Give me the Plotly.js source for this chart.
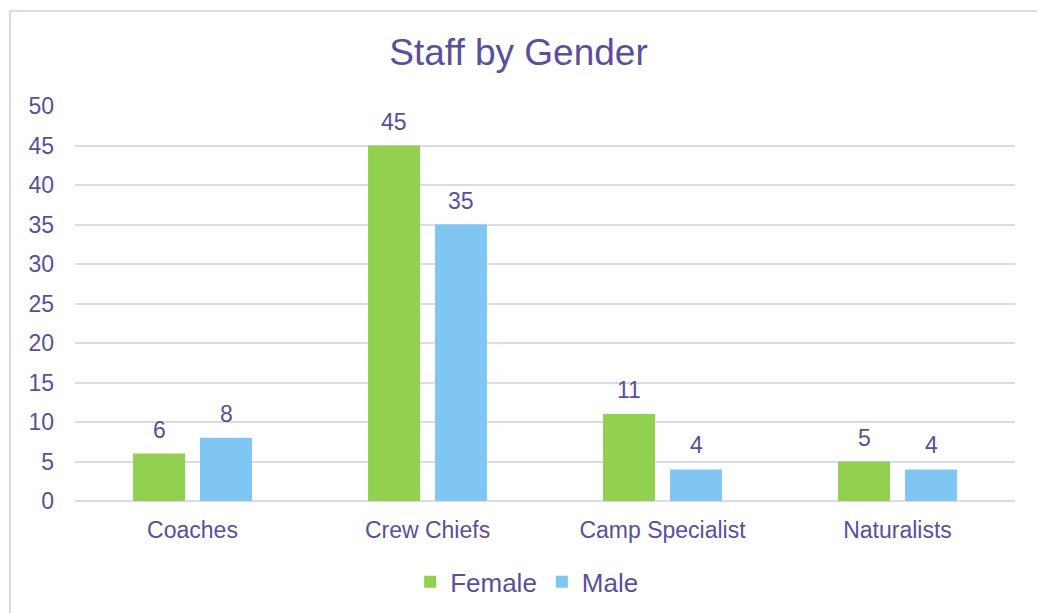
<!DOCTYPE html>
<html>
<head>
<meta charset="utf-8">
<script src="https://cdn.plot.ly/plotly-3.0.1.min.js"></script>
<style>
  html, body { margin: 0; padding: 0; background: #ffffff; }
  #wrap { position: relative; width: 1037px; height: 613px; overflow: hidden; }
  #chart { position: absolute; left: 0; top: 0; width: 1037px; height: 613px; }
  #frame { position: absolute; left: 9px; top: 10px; width: 1100px; height: 700px;
           border-left: 2px solid #DCD9EE; border-top: 2px solid #DCD9EE; pointer-events: none; }
</style>
</head>
<body>
<div id="wrap">
  <div id="chart"></div>
  <div id="frame"></div>
</div>
<script>
const categories = ["Coaches", "Crew Chiefs", "Camp Specialist", "Naturalists"];
const femaleValues = [6, 45, 11, 5];
const maleValues = [8, 35, 4, 4];
const yTicks = [0, 5, 10, 15, 20, 25, 30, 35, 40, 45, 50];

const textColor = "#5A4E9E";
const fontFamily = "Liberation Sans, Arial, sans-serif";
const labelSize = 23;

const traces = [
  { type: "bar", name: "Female", x: categories, y: femaleValues, marker: { color: "#92D14F" } },
  { type: "bar", name: "Male", x: categories, y: maleValues, marker: { color: "#7FC6F3" } }
];

// value labels above each bar
const annotations = [];
[[femaleValues, -33.5], [maleValues, 33.5]].forEach(([vals, dx]) => {
  vals.forEach((v, i) => {
    annotations.push({
      x: categories[i], y: v, xref: "x", yref: "y", text: String(v),
      showarrow: false, xshift: dx, yanchor: "bottom", yshift: 9,
      font: { size: labelSize, color: textColor, family: fontFamily }
    });
  });
});

const layout = {
  width: 1037, height: 613,
  paper_bgcolor: "rgba(0,0,0,0)", plot_bgcolor: "rgba(0,0,0,0)",
  margin: { l: 75, r: 22, t: 106, b: 112, autoexpand: false },
  font: { family: fontFamily, color: textColor },
  title: { text: "Staff by Gender", x: 0.5, xanchor: "center", y: 0.915, yanchor: "middle",
           font: { size: 37, color: textColor, family: fontFamily } },
  barmode: "group", bargap: 0.43, bargroupgap: 0.224,
  showlegend: true,
  legend: { orientation: "h", x: 0.481, xanchor: "center", y: -0.145, yanchor: "top",
            font: { size: 26, color: textColor, family: fontFamily }, itemwidth: 30 },
  annotations: annotations,
  xaxis: { showline: false, ticks: "", tickfont: { size: labelSize, color: textColor },
           ticklabelstandoff: 13, automargin: false },
  yaxis: { range: [0, 50], tickvals: yTicks, ticktext: yTicks.map(String),
           showgrid: true, gridcolor: "#DCD9EE", gridwidth: 2,
           zeroline: true, zerolinecolor: "#DCD9EE", zerolinewidth: 2,
           showline: false, ticks: "", tickfont: { size: labelSize, color: textColor },
           ticklabelstandoff: 20, automargin: false }
};

Plotly.newPlot("chart", traces, layout, { displayModeBar: false, staticPlot: true });
</script>
</body>
</html>
